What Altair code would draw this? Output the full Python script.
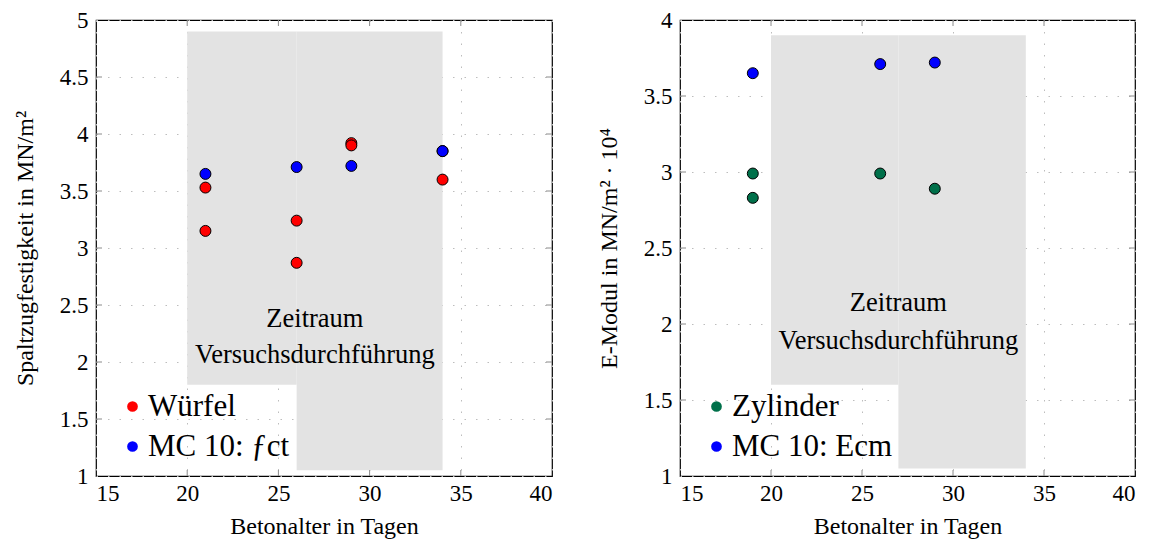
import altair as alt
import pandas as pd

FONT = "Liberation Serif"

# --- Spaltzugfestigkeit (left panel) ---
ages_wuerfel = [21, 21, 26, 26, 29, 29, 34, 34]
wuerfel = [3.53, 3.15, 3.24, 2.87, 3.92, 3.90, 3.60, 3.85]
ages_fct = [21, 26, 29, 34]
mc10_fct = [3.65, 3.71, 3.72, 3.85]

# --- E-Modul (right panel) ---
ages_zylinder = [19, 19, 26, 29]
zylinder = [2.99, 2.83, 2.99, 2.89]
ages_ecm = [19, 26, 29]
mc10_ecm = [3.65, 3.71, 3.72]

# test period band (two pieces, leaving room for the legend)
band_left_x = [20, 26]
band_left_x2 = [26, 34]
band_left_y = [1.8, 1.05]
band_left_y2 = [4.9, 4.9]
band_right_x = [20, 27]
band_right_x2 = [27, 34]
band_right_y = [1.6, 1.05]
band_right_y2 = [3.9, 3.9]

note_lines = ["Zeitraum", "Versuchsdurchführung"]
note_left_y = [2.38, 2.06]
note_right_y = [2.14, 1.89]
note_x = 27

x_ticks = [15, 20, 25, 30, 35, 40]
y_ticks_left = [1, 1.5, 2, 2.5, 3, 3.5, 4, 4.5, 5]
y_ticks_right = [1, 1.5, 2, 2.5, 3, 3.5, 4]

H = 456
TICK = 6


def panel(series, colors, band, notes, yticks, ydom, ytitle, width):
    xs = alt.Scale(domain=[15, 40], nice=False, zero=False)
    ys = alt.Scale(domain=ydom, nice=False, zero=False)
    xax = alt.Axis(values=x_ticks, title="Betonalter in Tagen", grid=True,
                   gridDash=[1.5, 10], gridColor="#bdbdbd", ticks=False,
                   domain=False, labelPadding=6, titlePadding=9)
    yax = alt.Axis(values=yticks, title=ytitle, grid=True, format="~g",
                   gridDash=[1.5, 10], gridColor="#bdbdbd", ticks=False,
                   domain=False, labelPadding=8, titlePadding=22)

    band_df = pd.DataFrame({"x": band[0], "x2": band[1], "y": band[2], "y2": band[3]})
    rect = alt.Chart(band_df).mark_rect(color="#e3e3e3").encode(
        x=alt.X("x:Q", scale=xs, axis=xax), x2="x2:Q",
        y=alt.Y("y:Q", scale=ys, axis=yax), y2="y2:Q")

    rows = []
    for name, ages, vals in series:
        for a, v in zip(ages, vals):
            rows.append({"age": a, "val": v, "serie": name})
    pts_df = pd.DataFrame(rows)
    names = [s[0] for s in series]
    pts = alt.Chart(pts_df).mark_point(filled=True, size=120, stroke="black",
                                       strokeWidth=1, opacity=1).encode(
        x=alt.X("age:Q", scale=xs),
        y=alt.Y("val:Q", scale=ys),
        color=alt.Color("serie:N", scale=alt.Scale(domain=names, range=colors),
                        sort=names,
                        legend=alt.Legend(title=None, orient="none", legendX=21,
                                          legendY=H - 85, labelFont=FONT,
                                          labelFontSize=31, symbolSize=115,
                                          symbolType="circle", symbolStrokeWidth=0,
                                          symbolOpacity=1, labelOffset=0,
                                          labelLimit=400, rowPadding=8,
                                          labelColor="black")),
        order=alt.Order("idx:Q"),
    ).transform_window(idx="row_number()")

    note_df = pd.DataFrame({"t": notes[0], "y": notes[1], "x": [note_x] * len(notes[0])})
    txt = alt.Chart(note_df).mark_text(font=FONT, fontSize=26.5, color="black",
                                       baseline="middle").encode(
        x=alt.X("x:Q", scale=xs), y=alt.Y("y:Q", scale=ys), text="t:N")

    # inward tick marks on all four sides
    xt = pd.DataFrame({"v": x_ticks[1:-1]})
    yt = pd.DataFrame({"v": yticks[1:-1]})
    tick_color = "#8a8a8a"
    bt = alt.Chart(xt).mark_rule(color=tick_color).encode(
        x=alt.X("v:Q", scale=xs), y=alt.value(H), y2=alt.value(H - TICK))
    tt = alt.Chart(xt).mark_rule(color=tick_color).encode(
        x=alt.X("v:Q", scale=xs), y=alt.value(0), y2=alt.value(TICK))
    lt = alt.Chart(yt).mark_rule(color=tick_color).encode(
        y=alt.Y("v:Q", scale=ys), x=alt.value(0), x2=alt.value(TICK))
    rt = alt.Chart(yt).mark_rule(color=tick_color).encode(
        y=alt.Y("v:Q", scale=ys), x=alt.value(width), x2=alt.value(width - TICK))

    return alt.layer(rect, bt, tt, lt, rt, txt, pts).properties(width=width, height=H)


left = panel(
    [("Würfel", ages_wuerfel, wuerfel), ("MC 10: ƒct", ages_fct, mc10_fct)],
    ["#ff0000", "#0000ff"],
    (band_left_x, band_left_x2, band_left_y, band_left_y2),
    (note_lines, note_left_y), y_ticks_left, [1, 5],
    "Spaltzugfestigkeit in MN/m²", 456)

right = panel(
    [("Zylinder", ages_zylinder, zylinder), ("MC 10: Ecm", ages_ecm, mc10_ecm)],
    ["#00704a", "#0000ff"],
    (band_right_x, band_right_x2, band_right_y, band_right_y2),
    (note_lines, note_right_y), y_ticks_right, [1, 4],
    "E-Modul in MN/m² · 10⁴", 455)

chart = alt.hconcat(left, right, spacing=42).resolve_scale(
    color="independent").configure_view(
    stroke="black", strokeWidth=1.2).configure_axis(
    labelFont=FONT, titleFont=FONT, labelFontSize=23, titleFontSize=24,
    titleFontWeight="normal", labelColor="black", titleColor="black"
).properties(padding={"left": 12, "top": 8, "right": 5, "bottom": 2}, background="white")

chart.save("out.html", embed_options={"renderer": "svg", "actions": False})
